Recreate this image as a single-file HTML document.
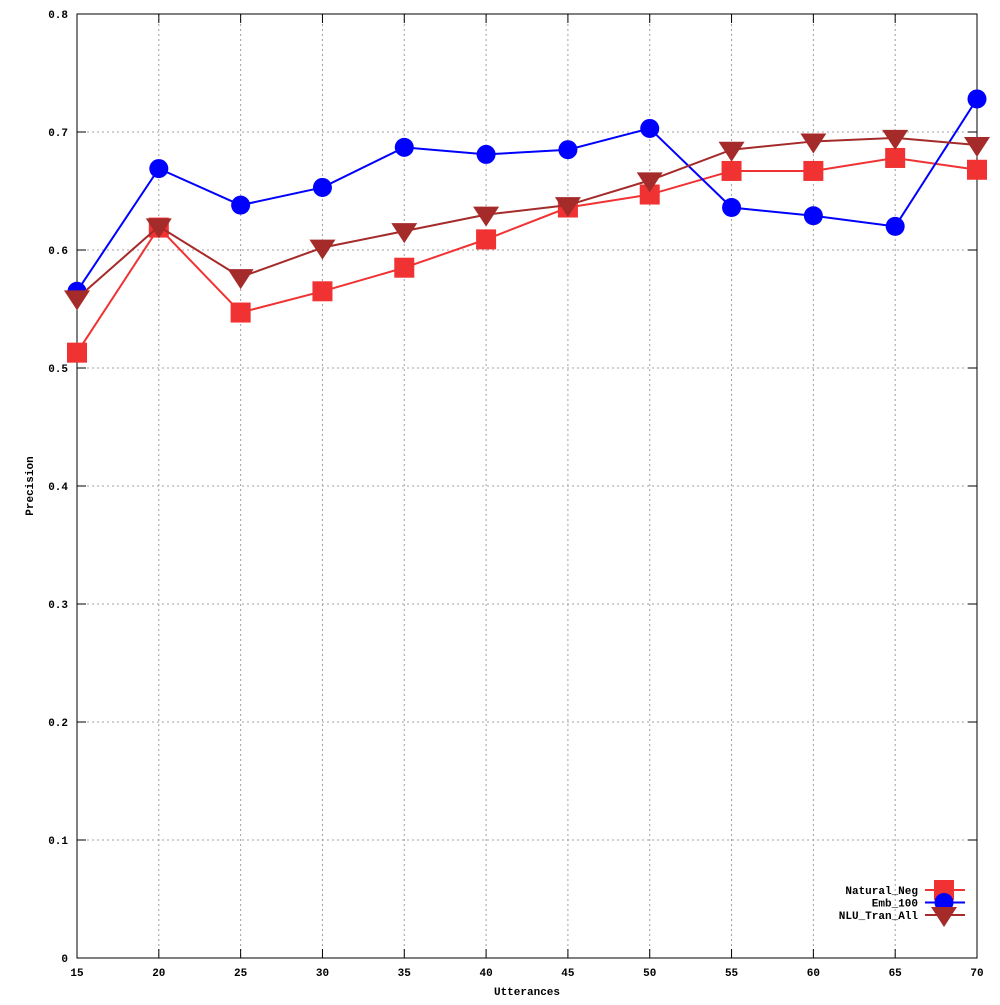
<!DOCTYPE html>
<html><head><meta charset="utf-8"><style>
body{margin:0;background:#fff}
svg text{font-family:"Liberation Mono","DejaVu Sans Mono",monospace;font-size:11px;font-weight:bold;fill:#000}
</style></head><body>
<svg id="chart" width="1000" height="1000" xmlns="http://www.w3.org/2000/svg">
<rect width="1000" height="1000" fill="#fff"/>
<g id="grid"></g>
<g id="axes"></g>
<g id="series"></g>
<g id="legend"></g>
</svg>
<script>
const categories=[15,20,25,30,35,40,45,50,55,60,65,70];
const naturalNeg=[0.513,0.619,0.547,0.565,0.585,0.609,0.636,0.647,0.667,0.667,0.678,0.668];
const emb100=[0.565,0.669,0.638,0.653,0.687,0.681,0.685,0.703,0.636,0.629,0.620,0.728];
const nluTranAll=[0.559,0.620,0.577,0.602,0.616,0.630,0.638,0.659,0.685,0.692,0.695,0.689];
const yTicks=[0,0.1,0.2,0.3,0.4,0.5,0.6,0.7,0.8];
const yTickLabels=["0","0.1","0.2","0.3","0.4","0.5","0.6","0.7","0.8"];
const seriesNames=["Natural_Neg","Emb_100","NLU_Tran_All"];

const NS="http://www.w3.org/2000/svg";
const L=77,R=977,T=14,B=958;
const xs=v=>L+(v-15)/(70-15)*(R-L);
const ys=v=>B-v/0.8*(B-T);
function mk(tag,attrs,parent){const e=document.createElementNS(NS,tag);for(const k in attrs)e.setAttribute(k,attrs[k]);parent.appendChild(e);return e;}
const grid=document.getElementById('grid'),axes=document.getElementById('axes'),ser=document.getElementById('series'),leg=document.getElementById('legend');

yTicks.forEach((t,i)=>{
  const y=ys(t);
  if(i>0&&i<yTicks.length-1){const g=mk('line',{x1:L,x2:R,y1:y,y2:y,stroke:'#a0a0a0','stroke-dasharray':'2,3'},grid);
  }
  const a=mk('line',{x1:L,x2:L+9,y1:y,y2:y,stroke:'#000'},axes);
  const b=mk('line',{x1:R-9,x2:R,y1:y,y2:y,stroke:'#000'},axes);
  const tx=mk('text',{x:L-9,y:y+4,'text-anchor':'end'},axes);tx.textContent=yTickLabels[i];
  
});
categories.forEach((c,i)=>{
  const x=xs(c);
  if(i>0&&i<categories.length-1){const g=mk('line',{x1:x,x2:x,y1:T,y2:B,stroke:'#a0a0a0','stroke-dasharray':'2,3'},grid);
  }
  const a=mk('line',{x1:x,x2:x,y1:B,y2:B-9,stroke:'#000'},axes);
  const b=mk('line',{x1:x,x2:x,y1:T,y2:T+9,stroke:'#000'},axes);
  const tx=mk('text',{x:x,y:B+18,'text-anchor':'middle'},axes);tx.textContent=c;
  
});
const fr=mk('rect',{x:L,y:T,width:R-L,height:B-T,fill:'none',stroke:'#000'},axes);

const xt=mk('text',{x:527,y:995,'text-anchor':'middle'},axes);xt.textContent='Utterances';

const yt=mk('text',{x:33,y:486,'text-anchor':'middle',transform:'rotate(-90 33 486)'},axes);yt.textContent='Precision';


function marker(kind,x,y,color,parent){
  let e;
  if(kind==='square')e=mk('rect',{x:x-10,y:y-10,width:20,height:20,fill:color},parent);
  else if(kind==='circle')e=mk('circle',{cx:x,cy:y,r:9.5,fill:color},parent);
  else e=mk('polygon',{points:`${x-13},${y-8} ${x+13},${y-8} ${x},${y+12}`,fill:color},parent);
  return e;
}
const defs=[[naturalNeg,'#f03232','square'],[emb100,'#0000ff','circle'],[nluTranAll,'#a52a2a','triangle']];
defs.forEach(([vals,col,kind],si)=>{
  const g=mk('g',{},ser);
  const pl=mk('polyline',{points:vals.map((v,i)=>xs(categories[i])+','+ys(v)).join(' '),fill:'none',stroke:col,'stroke-width':2},g);
  
  vals.forEach((v,i)=>{const m=marker(kind,xs(categories[i]),ys(v),col,g);
    });
  const ly=890+si*12.5;
  const e=mk('g',{},leg);
  const t=mk('text',{x:918,y:ly+4,'text-anchor':'end'},e);t.textContent=seriesNames[si];
  const ln=mk('line',{x1:925,x2:965,y1:ly,y2:ly,stroke:col,'stroke-width':2},e);
  
  const lm=marker(kind,944,ly,col,e);
});
</script>
</body></html>
